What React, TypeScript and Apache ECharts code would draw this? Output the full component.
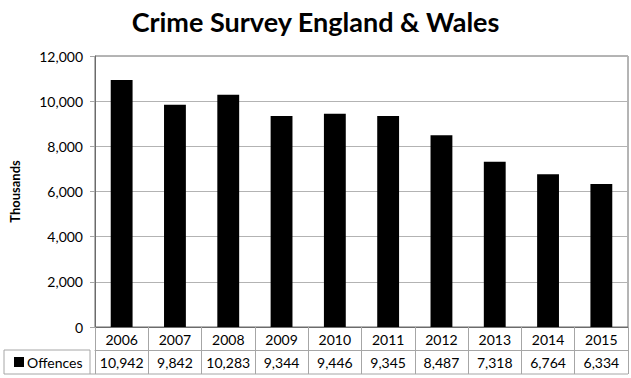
import React, { useEffect, useRef } from "react";
import * as echarts from "echarts";

const years = ["2006", "2007", "2008", "2009", "2010", "2011", "2012", "2013", "2014", "2015"];
const offences = [10942, 9842, 10283, 9344, 9446, 9345, 8487, 7318, 6764, 6334];
const seriesName = "Offences";
const titleText = "Crime Survey England & Wales";
const yAxisName = "Thousands";

const FONT = "Lato";
const fmt = (v: number) => v.toLocaleString("en-US");

export default function App() {
  const ref = useRef<HTMLDivElement>(null);
  useEffect(() => {
    if (!ref.current) return;
    const chart = echarts.init(ref.current, undefined, { renderer: "svg" });
    chart.setOption({
      animation: false,
      textStyle: { fontFamily: FONT },
      title: {
        text: titleText,
        left: "center",
        top: 3,
        textStyle: { fontFamily: FONT, fontSize: 27, fontWeight: "bold", color: "#000" },
      },
      grid: {
        left: 90,
        right: 3,
        top: 56,
        bottom: 51,
        show: true,
        borderColor: "#6b6b6b",
        borderWidth: 1,
      },
      yAxis: {
        type: "value",
        min: 0,
        max: 12000,
        interval: 2000,
        name: yAxisName,
        nameLocation: "middle",
        nameGap: 74,
        nameTextStyle: { fontFamily: FONT, fontSize: 13, fontWeight: "bold", color: "#000" },
        axisLine: { show: true, lineStyle: { color: "#6b6b6b" } },
        axisTick: { show: true, length: 5, lineStyle: { color: "#a6a6a6" } },
        axisLabel: {
          formatter: (v: number) => fmt(v),
          fontFamily: FONT,
          fontSize: 14,
          color: "#000",
          margin: 12,
        },
        splitLine: { show: true, lineStyle: { color: "#b3b3b3" } },
      },
      xAxis: [
        {
          type: "category",
          data: years,
          position: "bottom",
          axisLine: { show: true, lineStyle: { color: "#6b6b6b" } },
          axisTick: { show: true, interval: 0, length: 23, lineStyle: { color: "#a6a6a6" } },
          axisLabel: { interval: 0, fontFamily: FONT, fontSize: 14, color: "#000", margin: 5 },
        },
        {
          type: "category",
          data: offences.map(fmt),
          position: "bottom",
          offset: 23,
          axisLine: { show: true, lineStyle: { color: "#a6a6a6" } },
          axisTick: { show: true, interval: 0, length: 24, lineStyle: { color: "#a6a6a6" } },
          axisLabel: { interval: 0, fontFamily: FONT, fontSize: 14, color: "#000", margin: 5 },
        },
      ],
      series: [
        {
          name: seriesName,
          type: "bar",
          xAxisIndex: 0,
          data: offences,
          barWidth: "41%",
          itemStyle: { color: "#000" },
        },
      ],
      graphic: [
        {
          type: "rect",
          shape: { x: 4, y: 350, width: 86, height: 24 },
          style: { fill: "none", stroke: "#a6a6a6", lineWidth: 1 },
          silent: true,
        },
        {
          type: "line",
          shape: { x1: 90, y1: 374, x2: 628, y2: 374 },
          style: { stroke: "#a6a6a6", lineWidth: 1 },
          silent: true,
        },
        {
          type: "rect",
          shape: { x: 14, y: 357, width: 10, height: 10 },
          style: { fill: "#000" },
          silent: true,
        },
        {
          type: "text",
          x: 27,
          y: 362,
          style: {
            text: seriesName,
            fontFamily: FONT,
            fontSize: 14,
            fill: "#000",
            verticalAlign: "middle",
          },
          silent: true,
        },
      ],
    });
    return () => chart.dispose();
  }, []);
  return <div ref={ref} style={{ width: 631, height: 378, position: "absolute", left: 0, top: 0 }} />;
}
